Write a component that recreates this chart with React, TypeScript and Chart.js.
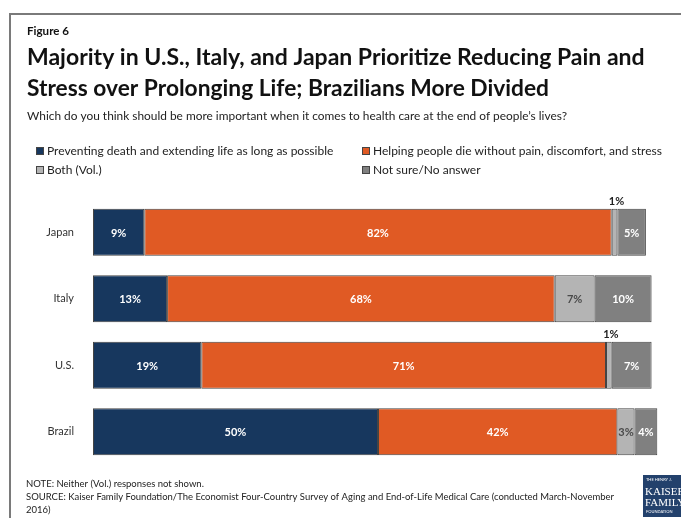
import React, { useEffect, useRef } from "react";
import { Chart, registerables } from "chart.js";

Chart.register(...registerables);

const categories = ["Japan", "Italy", "U.S.", "Brazil"];
const seriesNames = [
  "Preventing death and extending life as long as possible",
  "Helping people die without pain, discomfort, and stress",
  "Both (Vol.)",
  "Not sure/No answer",
];
const preventing = [9, 13, 19, 50];
const helping = [82, 68, 71, 42];
const both = [1, 7, 1, 3];
const notSure = [5, 10, 7, 4];
const seriesColors = ["#17375e", "#e05a24", "#b4b4b4", "#808080"];
const labelColors = ["#ffffff", "#ffffff", "#4a4a4a", "#ffffff"];

const figureLabel = "Figure 6";
const titleLines = [
  "Majority in U.S., Italy, and Japan Prioritize Reducing Pain and",
  "Stress over Prolonging Life; Brazilians More Divided",
];
const subtitle =
  "Which do you think should be more important when it comes to health care at the end of people\u2019s lives?";
const noteLines = [
  "NOTE: Neither (Vol.) responses not shown.",
  "SOURCE: Kaiser Family Foundation/The Economist Four-Country Survey of Aging and End-of-Life Medical Care (conducted March-November",
  "2016)",
];

const FONT = "Lato, 'Open Sans', sans-serif";

const labelPlugin = {
  id: "segLabels",
  afterDatasetsDraw(chart: any) {
    const ctx = chart.ctx;
    ctx.save();
    ctx.font = `bold 11px ${FONT}`;
    ctx.textAlign = "center";
    ctx.textBaseline = "middle";
    chart.data.datasets.forEach((ds: any, i: number) => {
      const meta = chart.getDatasetMeta(i);
      meta.data.forEach((bar: any, j: number) => {
        const v = ds.data[j];
        const p = bar.getProps(["x", "y", "base", "height"], true);
        const cx = (p.x + p.base) / 2;
        if (v <= 1) {
          ctx.fillStyle = "#222";
          ctx.fillText(v + "%", cx + 2, p.y - p.height / 2 - 7);
        } else {
          ctx.fillStyle = labelColors[i];
          ctx.fillText(v + "%", cx, p.y + 1);
        }
      });
    });
    ctx.restore();
  },
};

const decorPlugin = {
  id: "decor",
  afterDraw(chart: any) {
    const ctx = chart.ctx;
    ctx.save();
    // frame
    ctx.strokeStyle = "#7a7a7a";
    ctx.lineWidth = 2;
    ctx.beginPath();
    ctx.moveTo(10, 518);
    ctx.lineTo(10, 14);
    ctx.lineTo(681, 14);
    ctx.stroke();

    ctx.textAlign = "left";
    ctx.textBaseline = "alphabetic";
    ctx.fillStyle = "#111";
    ctx.font = `bold 12px ${FONT}`;
    ctx.fillText(figureLabel, 27, 35, 42);

    ctx.font = `bold 23px ${FONT}`;
    ctx.fillText(titleLines[0], 27, 65, 618);
    ctx.fillText(titleLines[1], 27, 96, 522);

    ctx.fillStyle = "#222";
    ctx.font = `12px ${FONT}`;
    ctx.fillText(subtitle, 27, 120, 540);

    // legend
    const legendPos = [
      [36, 151],
      [362, 151],
      [36, 170],
      [362, 170],
    ];
    ctx.font = `12px ${FONT}`;
    chart.data.datasets.forEach((ds: any, i: number) => {
      const [lx, ly] = legendPos[i];
      ctx.fillStyle = ds.backgroundColor;
      ctx.fillRect(lx, ly - 4, 7, 7);
      ctx.strokeStyle = "#444";
      ctx.lineWidth = 1;
      ctx.strokeRect(lx + 0.5, ly - 3.5, 7, 7);
      ctx.fillStyle = "#222";
      ctx.textBaseline = "middle";
      ctx.fillText(ds.label, lx + 11, ly, 300);
    });

    // notes
    ctx.textBaseline = "middle";
    ctx.font = `9.5px ${FONT}`;
    ctx.fillStyle = "#222";
    ctx.fillText(noteLines[0], 26, 484);
    ctx.fillText(noteLines[1], 26, 497, 588);
    ctx.fillText(noteLines[2], 26, 510);

    // logo
    ctx.fillStyle = "#23416c";
    ctx.fillRect(643, 475, 38, 42);
    ctx.fillStyle = "#ffffff";
    ctx.textAlign = "left";
    ctx.font = `4px ${FONT}`;
    ctx.fillText("THE HENRY J.", 646, 480);
    ctx.font = `11px 'Liberation Serif', serif`;
    ctx.fillText("KAISER", 645, 492);
    ctx.fillText("FAMILY", 645, 503);
    ctx.font = `4px ${FONT}`;
    ctx.fillText("FOUNDATION", 646, 512);
    ctx.restore();
  },
};

export default function App() {
  const canvasRef = useRef<HTMLCanvasElement | null>(null);

  useEffect(() => {
    document.body.style.margin = "0";
    const canvas = canvasRef.current;
    if (!canvas) return;
    const chart = new Chart(canvas, {
      type: "bar",
      data: {
        labels: categories,
        datasets: [preventing, helping, both, notSure].map((d, i) => ({
          label: seriesNames[i],
          data: d,
          backgroundColor: seriesColors[i],
          borderColor: "rgba(35,35,35,0.85)",
          borderWidth: 1,
          borderSkipped: false,
          barPercentage: 0.705,
          categoryPercentage: 1,
        })),
      },
      options: {
        indexAxis: "y",
        responsive: false,
        animation: false,
        devicePixelRatio: 1,
        layout: { padding: { left: 0, right: 18, top: 199, bottom: 53 } },
        plugins: {
          legend: { display: false },
          title: { display: false },
          tooltip: { enabled: false },
        },
        scales: {
          x: { stacked: true, min: 0, max: 100, display: false },
          y: {
            stacked: true,
            grid: { display: false },
            border: { display: false },
            ticks: {
              padding: 11,
              color: "#333",
              font: { family: FONT, size: 11 },
            },
            afterFit: (scale: any) => {
              scale.width = 93;
            },
          },
        },
      } as any,
      plugins: [labelPlugin, decorPlugin],
    });
    return () => chart.destroy();
  }, []);

  return (
    <div style={{ position: "absolute", left: 0, top: 0, width: 681, height: 518, background: "#fff" }}>
      <canvas ref={canvasRef} width={681} height={518} style={{ width: 681, height: 518, display: "block" }} />
    </div>
  );
}
